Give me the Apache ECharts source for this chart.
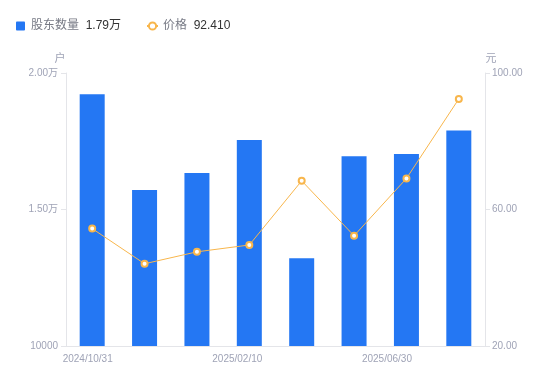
<!DOCTYPE html>
<html>
<head>
<meta charset="utf-8">
<script src="https://cdn.jsdelivr.net/npm/echarts@6/dist/echarts.min.js"></script>
<style>
  html, body { margin: 0; padding: 0; background: #fff; }
  #main { width: 550px; height: 381px; }
</style>
</head>
<body>
<div id="main"></div>
<script>
var dates = ['2024/10/31', '2024/11/29', '2024/12/31', '2025/02/10', '2025/03/31', '2025/04/30', '2025/06/30', '2025/07/31'];
var holders = [19220, 15710, 16340, 17550, 13210, 16950, 17030, 17890];
var prices = [54.4, 44.1, 47.6, 49.6, 68.4, 52.3, 69.1, 92.41];

var font = 'Liberation Sans, Noto Sans CJK SC, sans-serif';
var grey = '#9fa3b6';
var lineGrey = '#e4e5e9';

function wan(v) {
    return v > 10000 ? (v / 10000).toFixed(2) + '万' : String(v);
}

var myChart = echarts.init(document.getElementById('main'));
var option = {
    textStyle: { fontFamily: font },
    legend: {
        left: 11,
        top: 15,
        itemWidth: 11,
        itemHeight: 9,
        itemGap: 25,
        itemTextGap: 6,
        symbolKeepAspect: true,
        data: [
            { name: '股东数量', icon: 'path://M1,0h8a1,1,0,0,1,1,1v8a1,1,0,0,1,-1,1h-8a1,1,0,0,1,-1,-1v-8a1,1,0,0,1,1,-1z' },
            { name: '价格' }
        ],
        formatter: function (name) {
            var v = name === '股东数量' ? wan(holders[holders.length - 1]) : prices[prices.length - 1].toFixed(3);
            return '{n|' + name + '}  {v|' + v + '}';
        },
        textStyle: {
            rich: {
                n: { color: '#777a85', fontSize: 12, fontFamily: font },
                v: { color: '#333333', fontSize: 12, fontFamily: font }
            }
        }
    },
    grid: { left: 66, right: 65, top: 73, bottom: 35 },
    xAxis: {
        type: 'category',
        data: dates,
        axisLine: { lineStyle: { color: lineGrey } },
        axisTick: { show: false },
        axisLabel: {
            interval: 2,
            margin: 8,
            formatter: function (v, i) {
                var k = i === 0 ? 'a' : (i === 3 ? 'b' : 'c');
                return '{' + k + '|' + v + '}';
            },
            rich: {
                a: { color: grey, fontSize: 10, fontFamily: font, padding: [0, 9, 0, 0] },
                b: { color: grey, fontSize: 10, fontFamily: font, padding: [0, 24, 0, 0] },
                c: { color: grey, fontSize: 10, fontFamily: font, padding: [0, 39, 0, 0] }
            }
        }
    },
    yAxis: [
        {
            type: 'value',
            name: '户',
            min: 10000,
            max: 20000,
            interval: 5000,
            nameGap: 9,
            nameTextStyle: { color: grey, fontSize: 11, padding: [0, 12, 0, 0] },
            axisLine: { show: true, lineStyle: { color: lineGrey } },
            axisTick: { show: true, length: 5, lineStyle: { color: lineGrey } },
            axisLabel: { color: grey, fontSize: 10, margin: 8, formatter: wan },
            splitLine: { show: false }
        },
        {
            type: 'value',
            name: '元',
            min: 20,
            max: 100,
            interval: 40,
            nameGap: 9,
            nameTextStyle: { color: grey, fontSize: 11, padding: [0, 0, 0, 12] },
            axisLine: { show: true, lineStyle: { color: lineGrey } },
            axisTick: { show: true, length: 5, lineStyle: { color: lineGrey } },
            axisLabel: {
                color: grey, fontSize: 10, margin: 7,
                formatter: function (v) { return v.toFixed(2); }
            },
            splitLine: { show: false }
        }
    ],
    series: [
        {
            name: '股东数量',
            type: 'bar',
            yAxisIndex: 0,
            barWidth: 25,
            itemStyle: { color: '#2477f3' },
            data: holders
        },
        {
            name: '价格',
            type: 'line',
            yAxisIndex: 1,
            symbol: 'emptyCircle',
            symbolSize: 6,
            lineStyle: { color: '#f8b64c', width: 1 },
            itemStyle: { color: '#f8b64c', borderWidth: 2 },
            data: prices
        }
    ]
};
myChart.setOption(option);
</script>
</body>
</html>
